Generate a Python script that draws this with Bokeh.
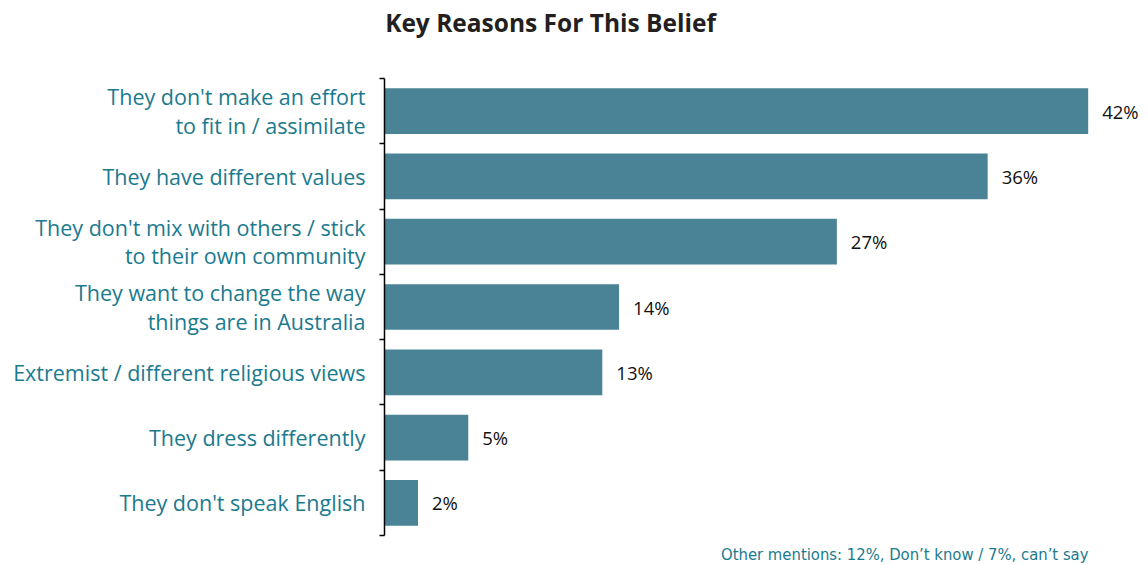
from bokeh.plotting import figure
from bokeh.models import Range1d, FixedTicker
from bokeh.core.properties import value
from bokeh.embed import file_html
from bokeh.resources import INLINE

categories = [
    "They don't make an effort\nto fit in / assimilate",
    "They have different values",
    "They don't mix with others / stick\nto their own community",
    "They want to change the way\nthings are in Australia",
    "Extremist / different religious views",
    "They dress differently",
    "They don't speak English",
]
values = [42, 36, 27, 14, 13, 5, 2]
title_text = "Key Reasons For This Belief"
note_text = "Other mentions: 12%, Don\u2019t know / 7%, can\u2019t say"

BAR = "#4a8396"
TEAL = "#1b7a8e"

n = len(categories)
ys = [n - i - 0.5 for i in range(n)]

# frame spans whole height; categories occupy 78..535 px
px_per_cat = (535 - 78) / n
y_lo = -(565 - 535) / px_per_cat
y_hi = n + 78 / px_per_cat
x_hi = 45.6
px_per_x = (1148 - 384) / x_hi

p = figure(width=1148, height=565, output_backend="svg", toolbar_location=None,
           x_range=Range1d(0, x_hi), y_range=Range1d(y_lo, y_hi),
           min_border_left=384, min_border_right=0, min_border_top=0, min_border_bottom=0)
p.outline_line_color = None
p.grid.visible = False
p.xaxis.visible = False
p.background_fill_color = "white"
p.border_fill_color = "white"

p.hbar(y=ys, left=0, right=values, height=0.7, fill_color=BAR, line_color=None)

p.text(x=values, y=ys, text=[f"{v}%" for v in values], x_offset=14,
       text_baseline="middle", text_align="left", text_font=value("Open Sans"),
       text_font_size="18.5px", text_color="#111111")

ya = p.yaxis[0]
ya.bounds = (0, n)
ya.ticker = FixedTicker(ticks=ys, minor_ticks=list(range(n + 1)))
ya.major_label_overrides = {y: c for y, c in zip(ys, categories)}
ya.major_tick_out = 0
ya.major_tick_in = 0
ya.major_tick_line_color = None
ya.minor_tick_out = 5
ya.minor_tick_in = 0
ya.minor_tick_line_color = "black"
ya.minor_tick_line_width = 1.5
ya.axis_line_color = "black"
ya.axis_line_width = 1.5
ya.major_label_standoff = 14
ya.major_label_text_font = "Open Sans"
ya.major_label_text_font_size = "21.5px"
ya.major_label_text_color = TEAL
ya.major_label_text_line_height = 0.98

# title and footnote as text inside the (full-height) frame
p.text(x=[(550 - 384) / px_per_x], y=[n + (78 - 22) / px_per_cat], text=[title_text],
       text_align="center", text_baseline="middle", text_font=value("Open Sans"),
       text_font_style="bold", text_font_size="24.5px", text_color="#231f20")
p.text(x=[(1088 - 384) / px_per_x], y=[-(554 - 535) / px_per_cat], text=[note_text],
       text_align="right", text_baseline="middle", text_font=value("DejaVu Sans Condensed"),
       text_font_size="16.5px", text_color=TEAL)

open("out.html", "w").write(file_html(p, INLINE))
